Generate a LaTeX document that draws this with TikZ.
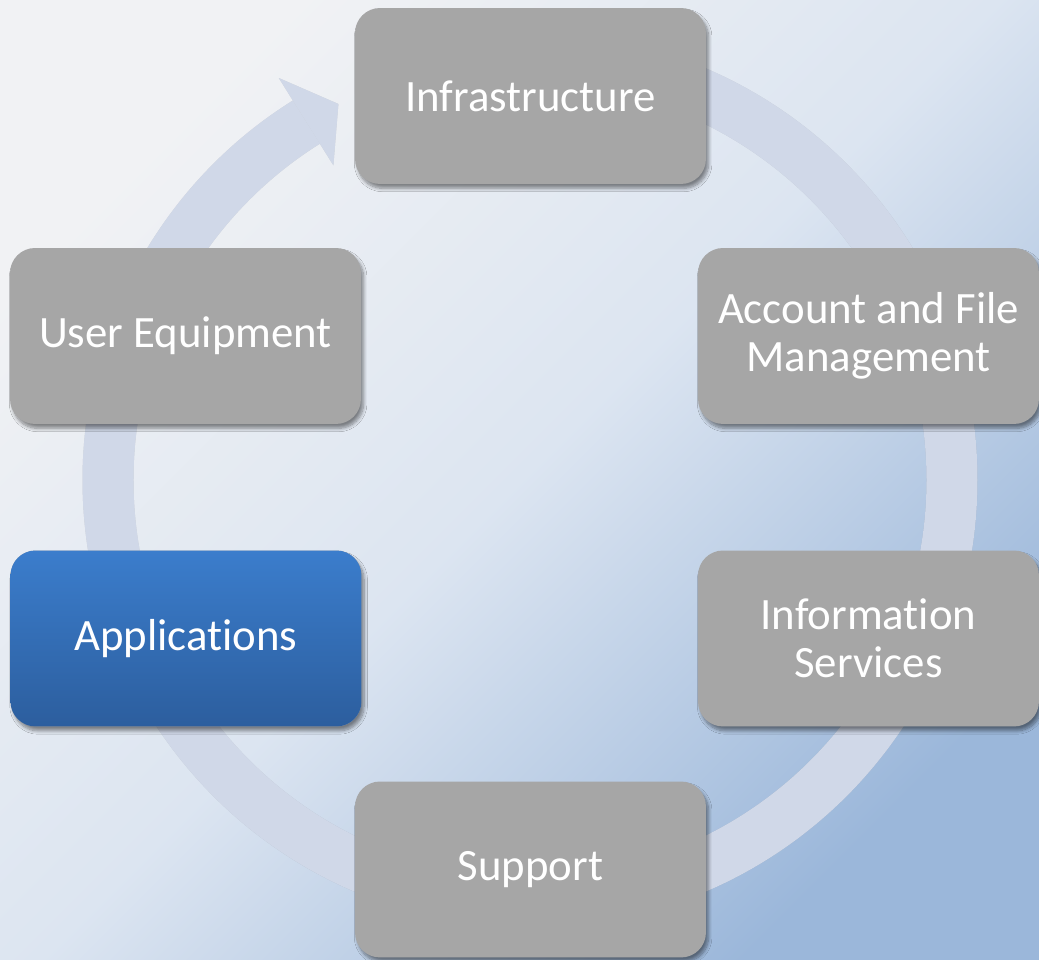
\documentclass[tikz,border=0pt]{standalone}
\usepackage{fontspec}
\setmainfont{Carlito}[Ligatures=NoCommon]
\usetikzlibrary{positioning,shadows.blur}
\definecolor{boxgray}{RGB}{166,166,166}
\definecolor{ringblue}{RGB}{208,216,232}
\definecolor{appstop}{RGB}{59,125,204}
\definecolor{appsbot}{RGB}{44,94,158}
\definecolor{bgtl}{RGB}{241,242,244}
\definecolor{bgmid}{RGB}{220,229,241}
\definecolor{bgbr}{RGB}{155,183,218}
\tikzstyle{stagebox}=[rectangle, rounded corners=0.5cm, fill=boxgray, text=white, align=center, minimum width=7.02cm, minimum height=3.52cm, inner sep=0, font=\fontsize{25.5}{27.5}\selectfont, blur shadow={shadow xshift=1.5pt, shadow yshift=-2.5pt, shadow blur steps=8, shadow opacity=45}]
\tikzstyle{narrowbox}=[stagebox, minimum width=6.82cm]
\tikzstyle{activebox}=[stagebox, top color=appstop, bottom color=appsbot]
\newcommand{\stagenode}[4]{\node[#1] (#2) at (#3) {#4};}

\begin{document}
\begin{tikzpicture}[x=0.02cm, y=0.02cm]
\useasboundingbox (0,0) rectangle (1039,960);
\shade[top color=bgtl, bottom color=bgbr, middle color=bgmid, shading angle=45] (0,0) rectangle (1039,960);
\coordinate (hub) at (530,480);

\foreach \dx/\dy/\col/\op in {2/-3/black/0.12, 0/0/ringblue/1} {
  \begin{scope}[shift={(\dx,\dy)}]
    \draw[line width=1.02cm, \col, opacity=\op] ([shift={(90:422)}]hub) arc[start angle=90, end angle=-238, radius=422];
    \fill[\col, opacity=\op] ([shift={(122:474)}]hub) -- ([shift={(117:422)}]hub) -- ([shift={(122:371)}]hub) -- cycle;
  \end{scope}
}

\stagenode{stagebox}{infra}{530.5,864}{Infrastructure}
\stagenode{narrowbox}{account}{868.5,624}{Account and File\\Management}
\stagenode{narrowbox}{infoserv}{868.5,321.5}{Information\\Services}
\stagenode{stagebox}{support}{530.5,90.5}{Support}
\stagenode{activebox}{apps}{186,321.5}{Applications}
\stagenode{stagebox}{usereq}{185.5,624}{User Equipment}
\end{tikzpicture}
\end{document}
